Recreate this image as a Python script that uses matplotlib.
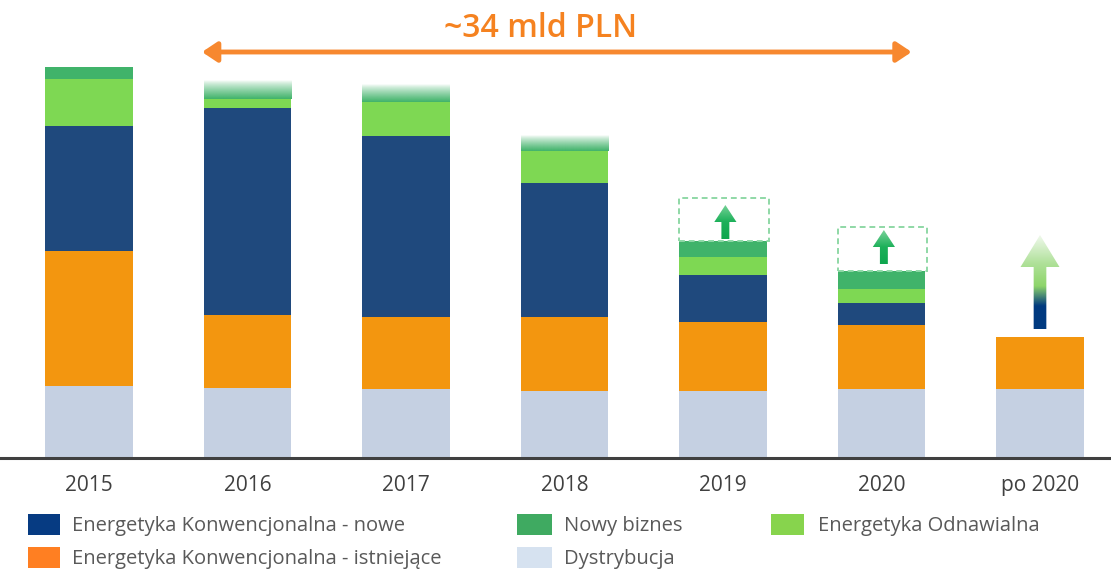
import numpy as np
import matplotlib.pyplot as plt
from matplotlib.patches import Rectangle, Polygon
from matplotlib.colors import to_rgb, LinearSegmentedColormap

plt.rcParams['font.family'] = ['Open Sans', 'DejaVu Sans']

# dane (mld PLN)
years = ['2015', '2016', '2017', '2018', '2019', '2020', 'po 2020']
dystrybucja = [7.2, 7.0, 6.9, 6.7, 6.7, 6.9, 6.9]
konw_istniejace = [13.5, 7.3, 7.2, 7.4, 6.9, 6.4, 5.2]
konw_nowe = [12.5, 20.7, 18.1, 13.4, 4.7, 2.2, 0.0]
odnawialna = [4.7, 0.9, 3.4, 3.2, 1.8, 1.4, 0.0]
nowy_biznes = [1.2, 1.9, 1.7, 1.6, 1.6, 1.8, 0.0]
wygaszony = [False, True, True, True, False, False, False]
potencjal = [0, 0, 0, 0, 4.3, 4.4, 0]
po2020_strzalka = (12.9, 19.1, 22.3)   # dol, podstawa grotu, szczyt

c_dys = '#C5D0E2'
c_ist = '#F3960F'
c_now = '#1F497D'
c_odn = '#7ED853'
c_biz = '#40B36A'

W, H = 1111, 569
fig = plt.figure(figsize=(W / 100, H / 100), dpi=100)
base = 458
ax = fig.add_axes([0, 1 - base / H, 1, base / H])

x = np.arange(len(years))
bw = 0.55


def gradient_fill(ax, clip, extent, cmap):
    img = np.linspace(0, 1, 256)[:, None]
    im = ax.imshow(img, extent=extent, origin='lower', aspect='auto',
                   cmap=cmap, interpolation='bilinear', zorder=4)
    im.set_clip_path(clip)


def arrow_poly(xc, y0, yh, yt, sw, hw, **kw):
    pts = [(xc - sw / 2, y0), (xc + sw / 2, y0), (xc + sw / 2, yh),
           (xc + hw / 2, yh), (xc, yt), (xc - hw / 2, yh), (xc - sw / 2, yh)]
    return Polygon(pts, closed=True, **kw)


bottom = np.zeros(len(years))
for vals, col in [(dystrybucja, c_dys), (konw_istniejace, c_ist),
                  (konw_nowe, c_now), (odnawialna, c_odn)]:
    v = np.array(vals)
    ax.bar(x, v, bw, bottom=bottom, color=col, linewidth=0, zorder=2)
    bottom += v

# nowy biznes: pelny lub wygaszony ku gorze
for i, v in enumerate(nowy_biznes):
    if v == 0:
        continue
    if wygaszony[i]:
        rgb = to_rgb(c_biz)
        n = 64
        img = np.zeros((n, 1, 4))
        img[..., :3] = rgb
        img[..., 3] = np.linspace(1, 0, n)[:, None] ** 0.8
        ax.imshow(img, extent=(x[i] - bw / 2, x[i] + bw / 2, bottom[i], bottom[i] + v),
                  origin='lower', aspect='auto', interpolation='bilinear', zorder=2)
    else:
        ax.bar(x[i], v, bw, bottom=bottom[i], color=c_biz, linewidth=0, zorder=2)
    bottom[i] += v

# potencjal: przerywane ramki ze strzalkami
green_cmap = LinearSegmentedColormap.from_list('g', ['#0EA64E', '#1DB05A', '#7AD39A'])
offsets = {4: (0.2, 1.9, 3.6), 5: (0.7, 2.4, 4.1)}
for i, p in enumerate(potencjal):
    if p == 0:
        continue
    ax.add_patch(Rectangle((x[i] - bw / 2, bottom[i]), bw + 0.015, p, fill=False,
                           edgecolor='#8FD8A6', linestyle=(0, (3, 2)), lw=1.4, zorder=3))
    o = offsets[i]
    xc = x[i] + 0.015
    poly = arrow_poly(xc, bottom[i] + o[0], bottom[i] + o[1], bottom[i] + o[2],
                      0.05, 0.14, facecolor='none', edgecolor='none')
    ax.add_patch(poly)
    gradient_fill(ax, poly, (xc - 0.1, xc + 0.1, bottom[i] + o[0], bottom[i] + o[2]),
                  green_cmap)

# strzalka po 2020
y0, yh, yt = po2020_strzalka
span = yt - y0
mix_cmap = LinearSegmentedColormap.from_list('m', [
    (0.0, '#003A80'), ((15.2 - y0) / span, '#003A80'),
    ((17.2 - y0) / span, '#8ED56A'), ((19.5 - y0) / span, '#B0E19A'),
    (1.0, '#F0F9EC')])
poly = arrow_poly(x[6], y0, yh, yt, 0.08, 0.246, facecolor='none', edgecolor='none')
ax.add_patch(poly)
gradient_fill(ax, poly, (x[6] - 0.2, x[6] + 0.2, y0, yt), mix_cmap)

# ~34 mld PLN
ax.annotate('', xy=(5.19, 40.6), xytext=(0.713, 40.6),
            arrowprops=dict(arrowstyle='<|-|>,head_length=0.45,head_width=0.3',
                            color='#F7882F', lw=3.5, shrinkA=0, shrinkB=0,
                            mutation_scale=20))
ax.text(2.852, 42.9, '~34 mld PLN', color='#F58220', fontsize=23,
        fontweight='semibold', ha='center', va='center')

ax.set_xlim(-89 / 158.5, (W - 89) / 158.5)
ax.set_ylim(0, base / 10)
for s in ['top', 'left', 'right']:
    ax.spines[s].set_visible(False)
ax.spines['bottom'].set_color('#404040')
ax.spines['bottom'].set_linewidth(2.2)
ax.set_yticks([])
ax.set_xticks(x)
ax.set_xticklabels(years, fontsize=15, color='#404040')
ax.tick_params(axis='x', length=0, pad=12)

# legenda
legend = [
    (28, 32, 72, 514, 'Energetyka Konwencjonalna - nowe', '#063B82'),
    (28, 32, 72, 547, 'Energetyka Konwencjonalna - istniejące', '#FF7F22'),
    (517, 35, 564, 514, 'Nowy biznes', '#3FAA61'),
    (517, 35, 564, 547, 'Dystrybucja', '#D6E2F0'),
    (771, 33, 818, 514, 'Energetyka Odnawialna', '#87D44D'),
]
for px, pw, tx, py, label, col in legend:
    fig.add_artist(Rectangle((px / W, 1 - (py + 21) / H), pw / W, 21 / H,
                             transform=fig.transFigure, color=col, lw=0))
    fig.text(tx / W, 1 - (py + 12) / H, label, fontsize=14.5, color='#595959',
             va='center', ha='left')

fig.savefig('out.png', dpi=100)
